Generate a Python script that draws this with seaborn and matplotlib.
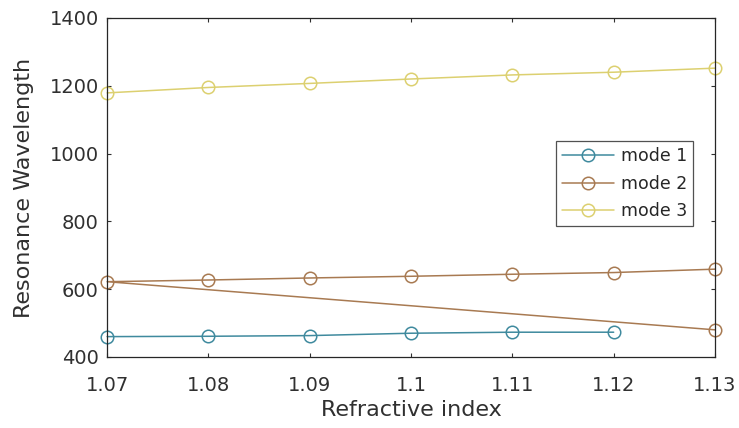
import matplotlib
matplotlib.use("Agg")
import matplotlib.pyplot as plt
import seaborn as sns
import pandas as pd

# Resonance wavelength versus refractive index for three modes
n_mode1 = [1.07, 1.08, 1.09, 1.10, 1.11, 1.12]
wl_mode1 = [460, 461, 463, 470, 473, 473]

# mode 2 trace starts at its low 1.13 value, then runs across the upper branch
n_mode2 = [1.13, 1.07, 1.08, 1.09, 1.10, 1.11, 1.12, 1.13]
wl_mode2 = [480, 622, 627, 633, 638, 644, 649, 659]

n_mode3 = [1.07, 1.08, 1.09, 1.10, 1.11, 1.12, 1.13]
wl_mode3 = [1179, 1195, 1207, 1220, 1232, 1240, 1252]

labels = ["mode 1", "mode 2", "mode 3"]
colors = ["#3f8a9e", "#a87a52", "#dcd070"]

x_ticks = [1.07, 1.08, 1.09, 1.10, 1.11, 1.12, 1.13]
x_ticklabels = ["1.07", "1.08", "1.09", "1.1", "1.11", "1.12", "1.13"]
y_ticks = [400, 600, 800, 1000, 1200, 1400]

frames = []
for lab, xs, ys in zip(labels, [n_mode1, n_mode2, n_mode3],
                       [wl_mode1, wl_mode2, wl_mode3]):
    frames.append(pd.DataFrame({"n": xs, "wl": ys, "mode": lab,
                                "order": range(len(xs))}))
df = pd.concat(frames, ignore_index=True)

sns.set_style("white")
plt.rcParams["font.family"] = ["DejaVu Sans"]

fig = plt.figure(figsize=(7.39, 4.28), dpi=100)
ax = fig.add_axes([0.145, 0.166, 0.8225, 0.792])

for lab, col in zip(labels, colors):
    sub = df[df["mode"] == lab]
    sns.lineplot(data=sub, x="n", y="wl", sort=False, estimator=None,
                 color=col, marker="o", markersize=9, markerfacecolor="none",
                 markeredgecolor=col, markeredgewidth=1.1, linewidth=1.1,
                 label=lab, ax=ax, clip_on=False)

ax.set_xlim(1.07, 1.13)
ax.set_ylim(400, 1400)
ax.set_xticks(x_ticks)
ax.set_xticklabels(x_ticklabels)
ax.set_yticks(y_ticks)
ax.tick_params(axis="both", labelsize=14, colors="#303030", direction="in",
               length=3, width=0.8, top=True, right=True, bottom=True, left=True)
ax.tick_params(axis="x", pad=14)
ax.tick_params(axis="y", pad=6)
for s in ax.spines.values():
    s.set_color("#262626")
    s.set_linewidth(0.9)
ax.set_xlabel("Refractive index", fontsize=16, color="#303030", labelpad=3)
ax.set_ylabel("Resonance Wavelength", fontsize=16, color="#303030", labelpad=11)

leg = ax.legend(loc="upper right", bbox_to_anchor=(0.964, 0.637), fontsize=12.5,
                frameon=True, fancybox=False, edgecolor="#262626",
                handlelength=3.0, borderpad=0.35, labelspacing=0.55,
                handletextpad=0.4, borderaxespad=0)
leg.get_frame().set_linewidth(0.9)

fig.savefig("out.png", dpi=100)
